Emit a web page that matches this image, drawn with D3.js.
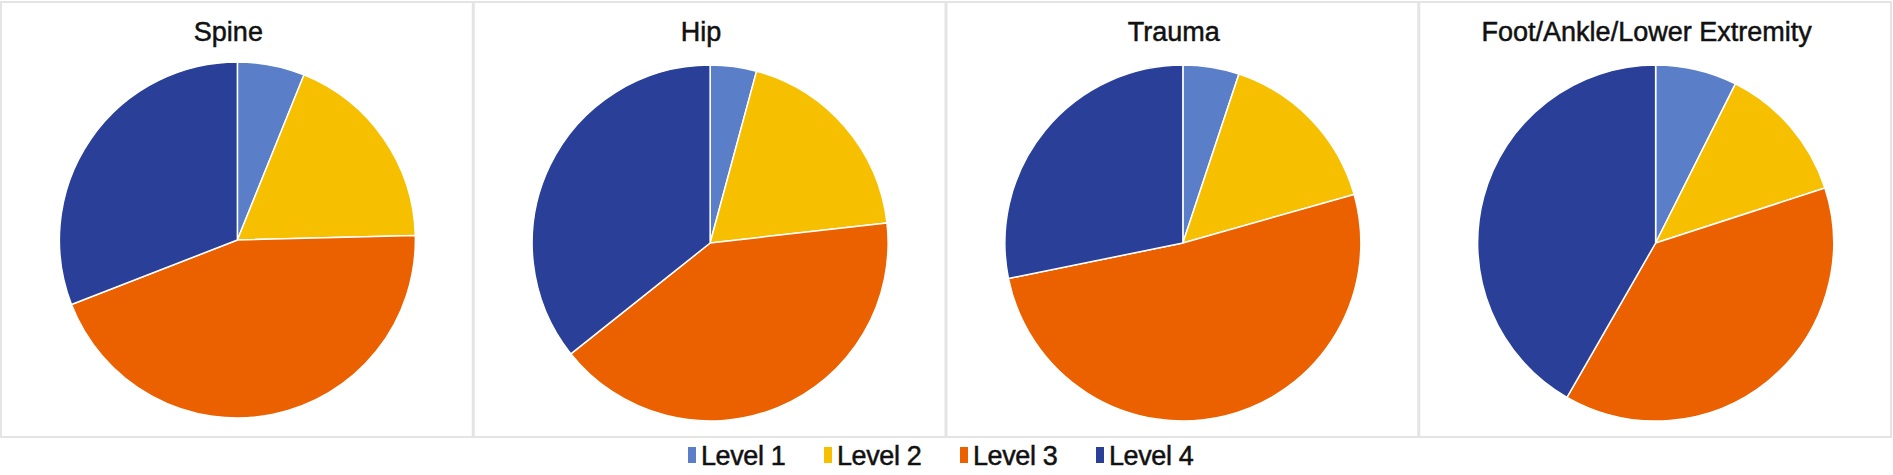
<!DOCTYPE html>
<html>
<head>
<meta charset="utf-8">
<script src="https://cdn.jsdelivr.net/npm/d3@7"></script>
<style>
  body { margin: 0; background: #fff; }
  text { font-family: "Liberation Sans", Arial, sans-serif; fill: #111; stroke: #111; stroke-width: 0.5px; }
</style>
</head>
<body>
<div id="chart"></div>
<script>
// data (percent of cases per level)
const panels = ["Spine", "Hip", "Trauma", "Foot/Ankle/Lower Extremity"]
const levels = ["Level 1", "Level 2", "Level 3", "Level 4"]
const level1 = [6.1, 4.2, 5.1, 7.4]
const level2 = [18.5, 19.0, 15.5, 12.6]
const level3 = [44.5, 41.1, 51.2, 38.3]
const level4 = [30.9, 35.7, 28.2, 41.7]
const colors = ["#5a7fc8", "#f6bf00", "#eb6100", "#2a3f98"]

const width = 1893, height = 475
const panelTop = 2, panelBottom = 437
const radius = 178
const pieY = [240, 243, 243, 243]

const svg = d3.select("#chart").append("svg")
    .attr("width", width)
    .attr("height", height)

const x = d3.scaleBand()
    .domain(panels)
    .range([0, 1891])

const color = d3.scaleOrdinal(levels, colors)

const pie = d3.pie().sort(null).value(d => d.value)
const arc = d3.arc().innerRadius(0).outerRadius(radius)

panels.forEach((name, i) => {
    const series = [level1[i], level2[i], level3[i], level4[i]]
        .map((v, j) => ({ level: levels[j], value: v }))

    const g = svg.append("g")

    g.append("rect")
        .attr("x", x(name) + 1)
        .attr("y", panelTop)
        .attr("width", x.bandwidth() - 1)
        .attr("height", panelBottom - panelTop)
        .attr("fill", "none")
        .attr("stroke", "#e4e4e4")
        .attr("stroke-width", 2)

    const cx = x(name) + x.bandwidth() / 2 + 1

    g.append("text")
        .attr("x", cx - 9)
        .attr("y", 41)
        .attr("text-anchor", "middle")
        .attr("font-size", 27)
        .text(name)

    g.append("g")
        .attr("transform", `translate(${cx},${pieY[i]})`)
        .selectAll("path")
        .data(pie(series))
        .join("path")
        .attr("d", arc)
        .attr("fill", d => color(d.data.level))
        .attr("stroke", "#fff")
        .attr("stroke-width", 1.5)
        .attr("stroke-linejoin", "round")
})

// legend
const legend = svg.append("g")
    .selectAll("g")
    .data(levels)
    .join("g")
    .attr("transform", (d, i) => `translate(${688 + i * 136},0)`)

legend.append("rect")
    .attr("y", 447)
    .attr("width", 8)
    .attr("height", 16)
    .attr("fill", d => color(d))

legend.append("text")
    .attr("x", 13)
    .attr("y", 465)
    .attr("font-size", 27)
    .attr("letter-spacing", -0.4)
    .text(d => d)
</script>
</body>
</html>
